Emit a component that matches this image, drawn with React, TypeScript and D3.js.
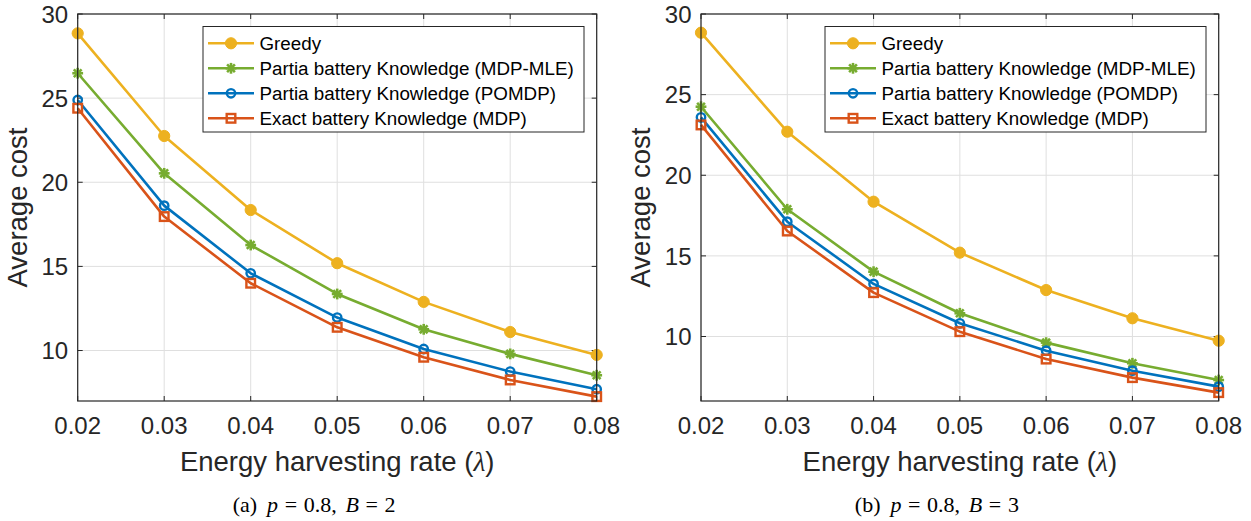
import React from 'react';
import * as d3 from 'd3';

const xValues = [0.02, 0.03, 0.04, 0.05, 0.06, 0.07, 0.08];
const xTickLabels = ['0.02', '0.03', '0.04', '0.05', '0.06', '0.07', '0.08'];
const yTicks = [10, 15, 20, 25, 30];
const seriesNames = [
  'Greedy',
  'Partia battery Knowledge (MDP-MLE)',
  'Partia battery Knowledge (POMDP)',
  'Exact battery Knowledge (MDP)',
];
const seriesColors = ['#EDB120', '#77AC30', '#0072BD', '#D95319'];
const seriesMarkers = ['dot', 'star', 'circle', 'square'];

// Panel (a): p = 0.8, B = 2
const greedyA = [28.85, 22.75, 18.35, 15.19, 12.89, 11.1, 9.74];
const mleA = [26.48, 20.53, 16.27, 13.36, 11.26, 9.8, 8.53];
const pomdpA = [24.89, 18.61, 14.59, 11.96, 10.09, 8.75, 7.7];
const mdpA = [24.4, 17.96, 14.0, 11.38, 9.6, 8.25, 7.26];

// Panel (b): p = 0.8, B = 3
const greedyB = [28.84, 22.7, 18.36, 15.2, 12.88, 11.13, 9.74];
const mleB = [24.25, 17.89, 14.02, 11.44, 9.62, 8.34, 7.3];
const pomdpB = [23.59, 17.12, 13.26, 10.82, 9.12, 7.88, 6.89];
const mdpB = [23.12, 16.54, 12.72, 10.3, 8.6, 7.45, 6.52];

const xLabel = 'Energy harvesting rate (';
const yLabel = 'Average cost';

const AX = '#262626';
const GRID = '#dfdfdf';
const SANS = '"Liberation Sans", Arial, Helvetica, sans-serif';
const SERIF = '"Liberation Serif", "Times New Roman", Times, serif';

function Marker({ kind, x, y, color }: { kind: string; x: number; y: number; color: string }) {
  if (kind === 'dot') return <circle cx={x} cy={y} r={5.6} fill={color} stroke={color} strokeWidth={1} />;
  if (kind === 'circle') return <circle cx={x} cy={y} r={4.2} fill="none" stroke={color} strokeWidth={2.4} />;
  if (kind === 'square') return <rect x={x - 4.3} y={y - 4.3} width={8.6} height={8.6} fill="none" stroke={color} strokeWidth={2.4} />;
  const s = 5.4;
  const d = s * 0.72;
  return (
    <g stroke={color} strokeWidth={2.6} strokeLinecap="butt">
      <line x1={x - s} y1={y} x2={x + s} y2={y} />
      <line x1={x} y1={y - s} x2={x} y2={y + s} />
      <line x1={x - d} y1={y - d} x2={x + d} y2={y + d} />
      <line x1={x - d} y1={y + d} x2={x + d} y2={y - d} />
    </g>
  );
}

function Panel({ x0, x1, yMin, series, tag, bVal }: { x0: number; x1: number; yMin: number; series: number[][]; tag: string; bVal: string }) {
  const y0 = 14;
  const y1 = 401;
  const xs = d3.scaleLinear().domain([0.02, 0.08]).range([x0, x1]);
  const ys = d3.scaleLinear().domain([yMin, 30]).range([y1, y0]);
  const line = d3.line<number>().x((_, i) => xs(xValues[i])).y((v) => ys(v));
  const tl = 5;
  const legW = 381;
  const legX = x1 - 12.7 - legW;
  const legY = 26.5;
  const legH = 105.5;
  const cx = (x0 + x1) / 2;
  return (
    <g>
      {/* grid */}
      {xValues.map((v, i) => (
        <line key={'gx' + i} x1={xs(v)} x2={xs(v)} y1={y0} y2={y1} stroke={GRID} strokeWidth={1} />
      ))}
      {yTicks.map((v, i) => (
        <line key={'gy' + i} x1={x0} x2={x1} y1={ys(v)} y2={ys(v)} stroke={GRID} strokeWidth={1} />
      ))}
      {/* ticks */}
      {xValues.map((v, i) => (
        <g key={'tx' + i} stroke={AX} strokeWidth={1}>
          <line x1={xs(v)} x2={xs(v)} y1={y1} y2={y1 - tl} />
          <line x1={xs(v)} x2={xs(v)} y1={y0} y2={y0 + tl} />
        </g>
      ))}
      {yTicks.map((v, i) => (
        <g key={'ty' + i} stroke={AX} strokeWidth={1}>
          <line x1={x0} x2={x0 + tl} y1={ys(v)} y2={ys(v)} />
          <line x1={x1} x2={x1 - tl} y1={ys(v)} y2={ys(v)} />
        </g>
      ))}
      {/* series */}
      {series.map((vals, si) => (
        <g key={'s' + si}>
          <path d={line(vals) || ''} fill="none" stroke={seriesColors[si]} strokeWidth={2.6} strokeLinejoin="round" />
          {vals.map((v, i) => (
            <Marker key={i} kind={seriesMarkers[si]} x={xs(xValues[i])} y={ys(v)} color={seriesColors[si]} />
          ))}
        </g>
      ))}
      {/* box */}
      <rect x={x0} y={y0} width={x1 - x0} height={y1 - y0} fill="none" stroke={AX} strokeWidth={1.2} />
      {/* tick labels */}
      {xValues.map((v, i) => (
        <text key={'lx' + i} x={xs(v)} y={434} textAnchor="middle" fontFamily={SANS} fontSize={24} fill={AX}>
          {xTickLabels[i]}
        </text>
      ))}
      {yTicks.map((v, i) => (
        <text key={'ly' + i} x={x0 - 9.5} y={ys(v)} dy="0.36em" textAnchor="end" fontFamily={SANS} fontSize={24} fill={AX}>
          {v}
        </text>
      ))}
      {/* axis labels */}
      <text x={cx} y={471} textAnchor="middle" fontFamily={SANS} fontSize={27.5} fill={AX}>
        {xLabel}
        <tspan fontFamily={SERIF} fontStyle="italic">λ</tspan>)
      </text>
      <text transform={`translate(${x0 - 51},${(y0 + y1) / 2}) rotate(-90)`} textAnchor="middle" fontFamily={SANS} fontSize={27.5} fill={AX}>
        {yLabel}
      </text>
      {/* legend */}
      <rect x={legX} y={legY} width={legW} height={legH} fill="#fff" stroke={AX} strokeWidth={1} />
      {seriesNames.map((name, i) => {
        const ry = 43.3 + 25 * i;
        return (
          <g key={'lg' + i}>
            <line x1={legX + 5} x2={legX + 51} y1={ry} y2={ry} stroke={seriesColors[i]} strokeWidth={2.6} />
            <Marker kind={seriesMarkers[i]} x={legX + 28} y={ry} color={seriesColors[i]} />
            <text x={legX + 56.5} y={ry} dy="0.36em" fontFamily={SANS} fontSize={18.8} fill="#000">
              {name}
            </text>
          </g>
        );
      })}
      {/* caption */}
      <text x={cx - 23} y={512} textAnchor="middle" fontFamily={SERIF} fontSize={22} fill="#000">
        <tspan>{'(' + tag + ')'}</tspan>
        <tspan dx="0.45em" fontStyle="italic">p</tspan>
        <tspan dx="0.3em">=</tspan>
        <tspan dx="0.3em">0.8,</tspan>
        <tspan dx="0.4em" fontStyle="italic">B</tspan>
        <tspan dx="0.3em">=</tspan>
        <tspan dx="0.3em">{bVal}</tspan>
      </text>
    </g>
  );
}

export default function App() {
  return (
    <svg width={1251} height={521} style={{ position: 'absolute', left: 0, top: 0, background: '#fff' }}>
      <rect width={1251} height={521} fill="#fff" />
      <Panel x0={77.7} x1={596.7} yMin={7} series={[greedyA, mleA, pomdpA, mdpA]} tag="a" bVal="2" />
      <Panel x0={701} x1={1218.7} yMin={6} series={[greedyB, mleB, pomdpB, mdpB]} tag="b" bVal="3" />
    </svg>
  );
}
